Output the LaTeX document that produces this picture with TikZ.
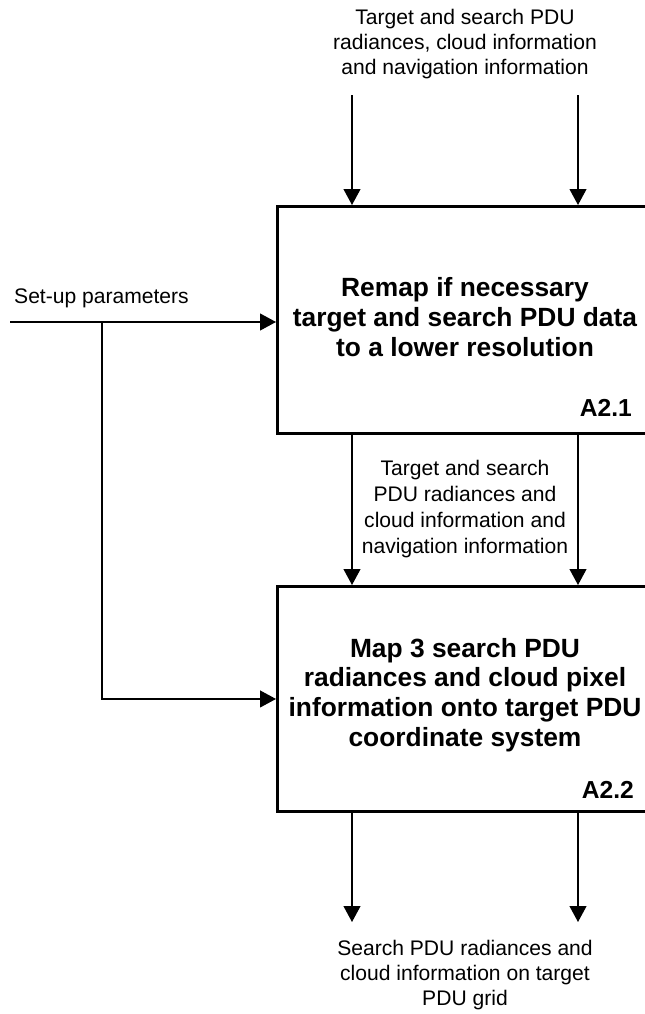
\documentclass[tikz,border=0pt]{standalone}
\usepackage{xcolor}
\usepackage{fontspec}
\setmainfont{Liberation Sans}
\usepackage{tikz}
\usetikzlibrary{arrows.meta, calc, positioning}

\tikzset{
  flow/.style={line width=0.85pt, -{Triangle[length=9pt, width=9.5pt]}},
  actbox/.style={draw, line width=1.7pt, rectangle, anchor=north west, minimum width=8.6cm},
  acttext/.style={align=center, font=\fontsize{15}{17}\selectfont\bfseries},
  flowtext/.style={align=center, font=\fontsize{12}{14.4}\selectfont},
  actid/.style={anchor=east, font=\fontsize{14}{16}\selectfont\bfseries}
}

\begin{document}
\begin{tikzpicture}[x=0.02cm, y=-0.02cm]
\useasboundingbox (0,0) rectangle (645,1014);

% Boxes
\node[actbox, minimum height=4.54cm] (box1) at (276,205) {};
\node[actbox, minimum height=4.5cm] (box2) at (276,585) {};
\node[acttext] (box1txt) at (465,317) {Remap if necessary\\target and search PDU data\\to a lower resolution};
\node[acttext] (box2txt) at (465,695) {Map 3 search PDU\\radiances and cloud pixel\\information onto target PDU\\coordinate system};
\node[actid] (id1) at (638,408) {A2.1};
\node[actid] (id2) at (640,790) {A2.2};

% Inputs
\node[flowtext] (intxt) at (465,44) {Target and search PDU\\radiances, cloud information\\and navigation information};
\coordinate (in1) at (352,95);
\coordinate (in2) at (578,95);
\draw[flow] (in1) -- (in1 |- box1.north);
\draw[flow] (in2) -- (in2 |- box1.north);

% Set-up parameters
\node[flowtext, anchor=west] (setuptxt) at (8,298) {Set-up parameters};
\coordinate (setup) at (10,322);
\coordinate (branch) at (102,322);
\draw[flow] (setup) -- (setup -| box1.west);
\draw[flow] (branch) |- (box2.west);

% Between boxes
\node[flowtext, font=\fontsize{12}{14.8}\selectfont] (midtxt) at (465,509) {Target and search\\PDU radiances and\\cloud information and\\navigation information};
\draw[flow] (in1 |- box1.south) -- (in1 |- box2.north);
\draw[flow] (in2 |- box1.south) -- (in2 |- box2.north);

% Outputs
\coordinate (out1) at (352,922);
\coordinate (out2) at (578,922);
\draw[flow] (out1 |- box2.south) -- (out1);
\draw[flow] (out2 |- box2.south) -- (out2);
\node[flowtext] (outtxt) at (465,975) {Search PDU radiances and\\cloud information on target\\PDU grid};

\end{tikzpicture}
\end{document}
